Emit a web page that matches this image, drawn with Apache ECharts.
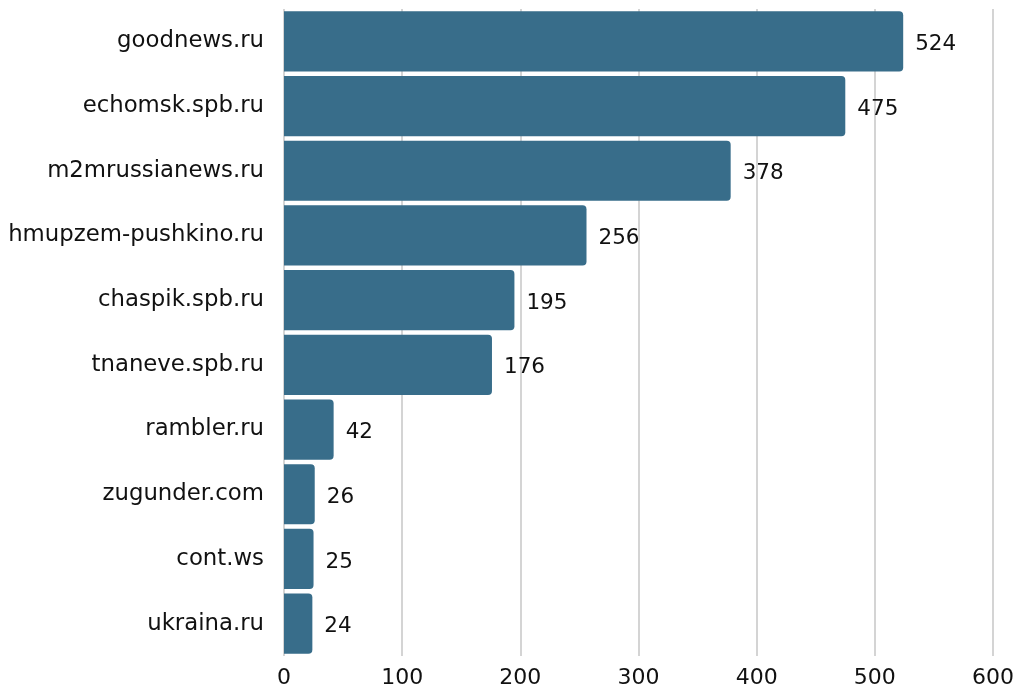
<!DOCTYPE html>
<html><head><meta charset="utf-8">
<script src="https://cdn.jsdelivr.net/npm/echarts@6/dist/echarts.min.js"></script>
<style>html,body{margin:0;padding:0;background:#fff}#c{width:1019px;height:690px}</style>
</head><body><div id="c"></div>
<script>
const categories = ["goodnews.ru","echomsk.spb.ru","m2mrussianews.ru","hmupzem-pushkino.ru","chaspik.spb.ru","tnaneve.spb.ru","rambler.ru","zugunder.com","cont.ws","ukraina.ru"];
const values = [524,475,378,256,195,176,42,26,25,24];
const xTicks = [0,100,200,300,400,500,600];
const font = "'DejaVu Sans', sans-serif";
const chart = echarts.init(document.getElementById('c'));
chart.setOption({
  animation:false,
  grid:{left:284,right:26,top:9,bottom:34,containLabel:false},
  xAxis:{type:'value',min:0,max:600,interval:100,
    axisLine:{show:false},axisTick:{show:false},
    splitLine:{lineStyle:{color:'#d4d4d4',width:2}},
    axisLabel:{color:'#111',fontSize:22,fontFamily:font,margin:11,
      formatter:v=>xTicks.includes(v)?String(v):''}},
  yAxis:{type:'category',data:categories,inverse:true,
    axisLine:{show:false},axisTick:{show:false},
    axisLabel:{color:'#111',fontSize:22.8,fontFamily:font,margin:20}},
  series:[{type:'bar',data:values,barCategoryGap:'7%',
    itemStyle:{color:'#386d8a',borderRadius:[0,4,4,0]},
    label:{show:true,position:'right',distance:12,offset:[0,3],color:'#111',fontSize:21.5,fontFamily:font}}]
});
</script></body></html>
